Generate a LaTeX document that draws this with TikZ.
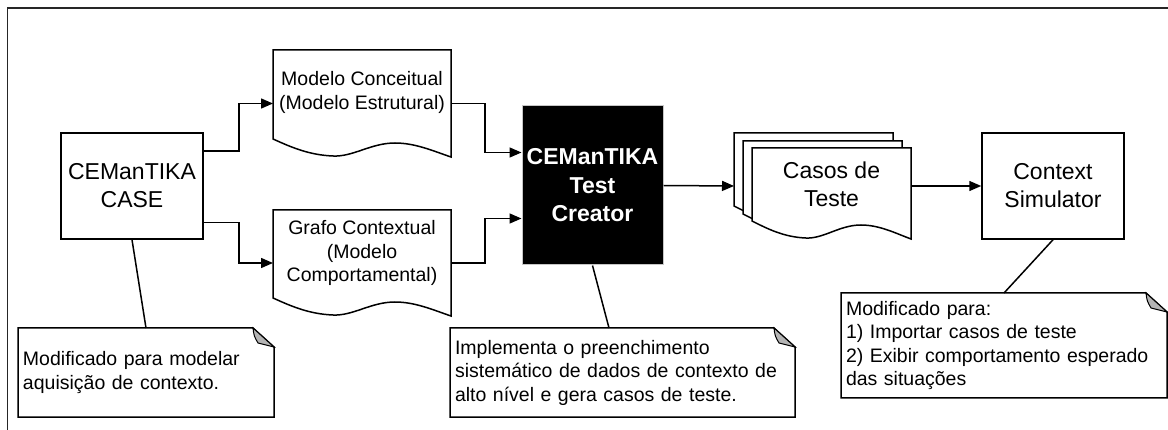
\documentclass[tikz,border=0pt]{standalone}
\usepackage{fontspec}
\setmainfont{Liberation Sans}
\usetikzlibrary{arrows.meta,calc,fit}
\definecolor{foldgray}{RGB}{180,180,180}
\tikzset{
 shapeline/.style={draw=black, line width=1.5pt},
 box/.style={shapeline, rectangle, minimum width=142pt, minimum height=106pt, inner sep=0pt, align=center, font=\fontsize{23}{28}\selectfont},
 hidden/.style={rectangle, inner sep=0pt, outer sep=0pt},
 doctxt/.style={align=center, inner sep=0pt, font=\fontsize{19.5}{23.5}\selectfont},
 bigtxt/.style={align=center, inner sep=0pt, font=\fontsize{23}{28}\selectfont},
 notebox/.style={hidden, align=left, inner xsep=5pt, font=\fontsize{19.5}{23.5}\selectfont},
 arrow/.style={line width=1.5pt, -{Triangle[length=12pt,width=10pt]}},
 link/.style={line width=1.5pt},
}
\newcommand\docwave[1]{%
 \draw[shapeline,fill=white] (#1.north west) -- (#1.north east) -- (#1.south east)
  .. controls ($(#1.south west)!0.9!(#1.south east)+(0,-6)$) and ($(#1.south west)!0.8!(#1.south east)+(0,-14)$) .. ($(#1.south west)!0.685!(#1.south east)+(0,-14)$)
  .. controls ($(#1.south west)!0.55!(#1.south east)+(0,-14)$) and ($(#1.south west)!0.45!(#1.south east)+(0,0)$) .. ($(#1.south west)!0.337!(#1.south east)+(0,-1)$)
  .. controls ($(#1.south west)!0.2!(#1.south east)+(0,-2)$) and ($(#1.south west)!0.1!(#1.south east)+(0,-10)$) .. ($(#1.south west)+(0,-18)$) -- cycle;}
\newcommand\noteshape[1]{%
 \draw[shapeline] (#1.north west) -- ([xshift=-21pt]#1.north east) -- ([yshift=-19pt]#1.north east) -- (#1.south east) -- (#1.south west) -- cycle;
 \draw[line width=1pt, fill=foldgray] ([xshift=-21pt]#1.north east) .. controls ([xshift=-20pt,yshift=-8pt]#1.north east) .. ([xshift=-16pt,yshift=-15pt]#1.north east) -- ([yshift=-19pt]#1.north east) -- cycle;}
\begin{document}
\begin{tikzpicture}[x=1pt,y=-1pt]
\useasboundingbox (0,0) rectangle (1168,430);
\draw[line width=1.5pt, black!85] (7.5,430) -- (7.5,8) -- (1168,8);

% main nodes
\node[box] (case) at (132,186) {CEManTIKA\\CASE};
\node[hidden, minimum width=178pt, minimum height=107pt] (doc1) at (362,103.5) {};
\node[hidden, minimum width=178pt, minimum height=106pt] (doc2) at (362,263) {};
\node[box, fill=black, draw=gray!45, line width=1pt, minimum width=141pt, minimum height=159pt, text=white, font=\bfseries\fontsize{23}{28.5}\selectfont] (creator) at (592.5,185.5) {CEManTIKA\\Test\\Creator};
\node[hidden, minimum width=159pt, minimum height=91pt] (sheetA) at (813.5,178.5) {};
\node[hidden, minimum width=159pt, minimum height=91pt] (sheetB) at (822.5,186.5) {};
\node[hidden, minimum width=159pt, minimum height=91pt] (sheetC) at (831.5,193.5) {};
\node[hidden, fit=(sheetA)(sheetC)] (stack) {};
\node[box] (sim) at (1053,186) {Context\\Simulator};

% document outlines and texts
\docwave{doc1}
\docwave{doc2}
\docwave{sheetA}
\docwave{sheetB}
\docwave{sheetC}
\node[doctxt] (doc1t) at ([yshift=11pt]doc1.center) {Modelo Conceitual\\(Modelo Estrutural)};
\node[doctxt] (doc2t) at ([yshift=10pt]doc2.center) {Grafo Contextual\\(Modelo\\Comportamental)};
\node[bigtxt] (stackt) at ([yshift=9.5pt]sheetC.center) {Casos de\\Teste};

% notes
\node[notebox, minimum height=89pt, text width=246pt] (note1) at (146,372.5) {Modificado para modelar\\aquisição de contexto.};
\node[notebox, minimum height=89pt, text width=335pt] (note2) at (622.5,372.5) {Implementa o preenchimento\\sistemático de dados de contexto de\\alto nível e gera casos de teste.};
\node[notebox, minimum height=105pt, text width=316pt] (note3) at (1004,345.5) {Modificado para:\\1) Importar casos de teste\\2) Exibir comportamento esperado\\das situações};
\noteshape{note1}
\noteshape{note2}
\noteshape{note3}

% connectors
\draw[arrow] ([yshift=-19pt]case.north east) -- ++(35,0) |- (doc1.west);
\draw[arrow] ([yshift=17pt]case.south east) -- ++(35,0) |- (doc2.west);
\draw[arrow] (doc1.east) -- ++(34,0) |- ([yshift=-47pt]creator.north west);
\draw[arrow] (doc2.east) -- ++(34,0) |- ([yshift=47pt]creator.south west);
\draw[arrow] (creator.east) -- (stack.west);
\draw[arrow] (stack.east) -- (sim.west);
\draw[link] (case.south) -- (note1.north);
\draw[link] (creator.south) -- ([xshift=-13.5pt]note2.north);
\draw[link] (sim.south) -- (note3.north);
\end{tikzpicture}
\end{document}
